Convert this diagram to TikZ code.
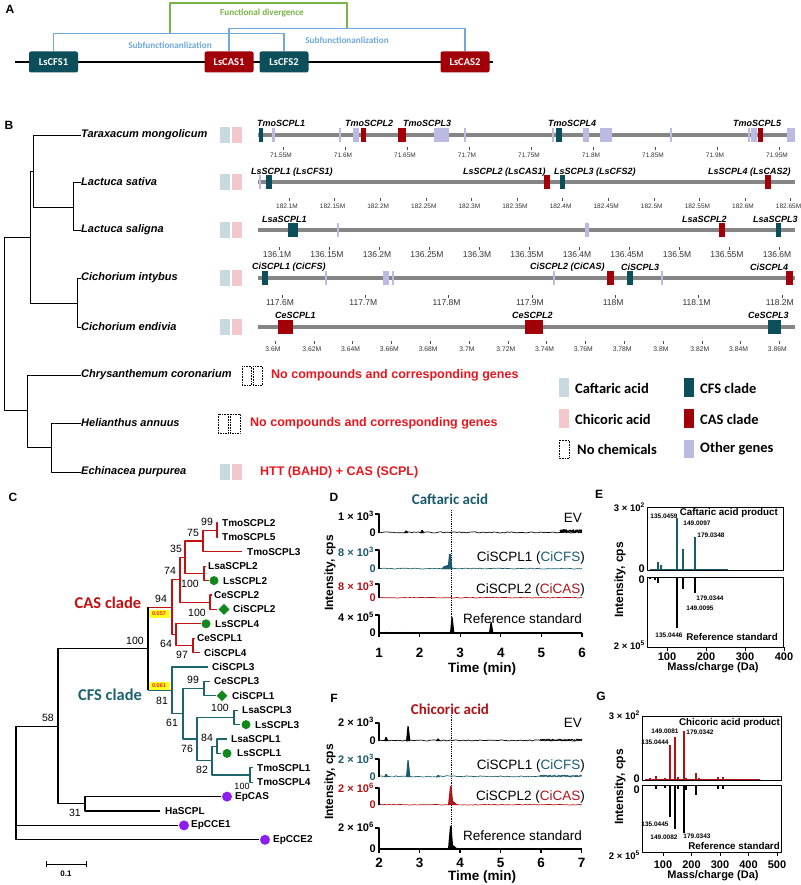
\documentclass[tikz,border=0pt]{standalone}
\usepackage{fontspec}
\setmainfont{Liberation Sans}
\newfontfamily\calib{Carlito}
\usetikzlibrary{positioning,shapes.geometric}
\definecolor{cfsteal}{RGB}{12,78,90}
\definecolor{casred}{RGB}{162,0,8}
\definecolor{subblue}{RGB}{111,168,220}
\definecolor{divgreen}{RGB}{120,180,70}
\definecolor{othergene}{RGB}{186,186,226}
\definecolor{caflight}{RGB}{200,218,224}
\definecolor{chicpink}{RGB}{242,200,205}
\definecolor{alertred}{RGB}{232,22,30}
\definecolor{treered}{RGB}{196,16,16}
\definecolor{treeteal}{RGB}{28,100,110}
\definecolor{tealtxt}{RGB}{26,92,110}
\definecolor{redtxt}{RGB}{175,20,25}
\definecolor{markgreen}{RGB}{18,135,28}
\definecolor{markpurple}{RGB}{140,30,240}
\definecolor{bsyellow}{RGB}{255,255,40}
\newcommand{\fs}[1]{\fontsize{#1}{#1}\selectfont}
% rectangular clade: [style]{x parent}{x child1}{y child1}{x child2}{y child2}
\newcommand{\clade}[6][black]{\draw[#1] (#3,#4) -- (#2,#4) -- (#2,#6) -- (#5,#6);}
\newcommand{\genes}[3]{\foreach \a/\b in {#3} \fill[#2] (\a,#1-7) rectangle (\b,#1+7);}
\newcommand{\trackticks}[5]{\foreach \t [count=\k from 0] in {#4} {\draw[black!70,line width=0.5pt] ({#2+2+#3*\k},#1-8) -- ++(0,3); \node[ticklab,font=\fs{#5}] at ({#2+#3*\k},#1) {\t M};}}
\newcommand{\noisy}[5]{\draw[#1,line width=0.7pt] plot[domain=#2:#3,samples=90] (\x,{#4-#5*rnd});}
\newcommand{\peak}[4]{\fill[#1] (#2-2,#3) -- (#2-0.5,#3-#4) -- (#2+0.6,#3-#4) -- (#2+2.4,#3) -- cycle;}
\tikzset{
  panel/.style={font=\bfseries\fs{12},inner sep=0pt},
  genebox/.style={rounded corners=2pt,minimum width=49pt,minimum height=21pt,inner sep=0pt,text=white,font=\calib\bfseries\fs{10.5}},
  bracket/.style={subblue,line width=1.3pt},
  brlab/.style={font=\calib\bfseries\fs{9.2},inner sep=0pt},
  species/.style={anchor=west,inner sep=0pt,font=\bfseries\itshape\fs{11}},
  sptree/.style={line width=0.9pt},
  track/.style={line width=3.5pt,draw=black!48},
  genelab/.style={anchor=west,inner sep=0pt,font=\bfseries\itshape\fs{9}},
  ticklab/.style={inner sep=0pt,text=black!80},
  nochem/.style={densely dotted,line width=0.6pt},
  alert/.style={anchor=west,inner sep=0pt,text=alertred,font=\bfseries\fs{12.5}},
  legtext/.style={anchor=west,inner sep=0pt,font=\calib\bfseries\fs{14.5}},
  cas/.style={treered,line width=1.2pt},
  cfs/.style={treeteal,line width=1.2pt},
  outer/.style={black,line width=1.2pt},
  leaflab/.style={anchor=west,inner sep=0pt,font=\bfseries\fs{10}},
  boot/.style={inner sep=0pt,font=\fs{10.5}},
  gdot/.style={circle,fill=markgreen,minimum size=9pt,inner sep=0pt},
  gdiam/.style={diamond,fill=markgreen,minimum size=11pt,inner sep=0pt},
  pdot/.style={circle,fill=markpurple,minimum size=10pt,inner sep=0pt},
  bsbox/.style={fill=bsyellow,text=red!75!orange,font=\bfseries\fs{5.5},minimum width=21pt,minimum height=8pt,inner sep=0pt},
  chromaxis/.style={line width=1.2pt},
  ylab/.style={anchor=east,inner sep=0pt,font=\bfseries\fs{11}},
  tracelab/.style={anchor=east,inner sep=0pt,font=\fs{13.5}},
  timelab/.style={inner sep=0pt,font=\bfseries\fs{13.5}},
  peaklab/.style={inner sep=0pt,font=\bfseries\fs{6.5}},
  speclab/.style={anchor=east,inner sep=0pt,font=\bfseries\fs{9.8}},
  masslab/.style={inner sep=0pt,font=\bfseries\fs{11}}
}
\begin{document}
\begin{tikzpicture}[x=1pt,y=-1pt,line join=round,>=stealth]
\useasboundingbox (0,0) rectangle (800,885);
\fill[white] (0,0) rectangle (800,885);
\pgfmathsetseed{7}

%% A: gene cluster
\node[panel] at (10,9) {A};
\draw[line width=2pt] (15,62) -- (493,62);
\node[genebox,fill=cfsteal] (cfs1) at (53.5,62) {LsCFS1};
\node[genebox,fill=casred] (cas1) at (229,62) {LsCAS1};
\node[genebox,fill=cfsteal] (cfs2) at (284,62) {LsCFS2};
\node[genebox,fill=casred] (cas2) at (465,62) {LsCAS2};
\draw[bracket] (cfs1.north) -- ++(0,-18) -| (cfs2.north);
\draw[bracket] (cas1.north) -- ++(0,-23) -| (cas2.north);
\coordinate (div1) at (170,33.5);
\coordinate (div2) at (347,28.5);
\draw[divgreen,line width=1.3pt] (div1) -- ++(0,-30.5) -| (div2);
\node[brlab,text=subblue] at (170,45) {Subfunctionanlization};
\node[brlab,text=subblue] at (347,40) {Subfunctionanlization};
\node[brlab,text=divgreen] at (262,13) {Functional divergence};

%% B: species tree and loci
\node[panel] at (9,125) {B};
\foreach \nm/\lab/\yy in {tmo/Taraxacum mongolicum/135, ls/Lactuca sativa/182, lsa/Lactuca saligna/230, ci/Cichorium intybus/278, ce/Cichorium endivia/327, chr/Chrysanthemum coronarium/375, ha/Helianthus annuus/423, ep/Echinacea purpurea/472}
  \node[species] (\nm) at (81,\yy) {\lab};
\draw[sptree] (tmo.west) -| (33,207) -- (73,207);
\draw[sptree] (ls.west) -| (73,230) -- (lsa.west);
\draw[sptree] (33,171) -- (30,171) -- (30,303) -- (77,303);
\draw[sptree] (ci.west) -| (77,327) -- (ce.west);
\draw[sptree] (30,237) -- (4,237) -- (4,410) -- (27,410);
\draw[sptree] (chr.west) -| (27,447) -- (51,447);
\draw[sptree] (ha.west) -| (51,472) -- (ep.west);
% chemicals
\foreach \yy in {135,182,230,278,327,472} {
  \fill[caflight] (220,\yy-8) rectangle (230,\yy+8);
  \fill[chicpink] (231.5,\yy-8) rectangle (241.5,\yy+8);
}
\draw[nochem] (242,366) rectangle (251.5,385) (253,366) rectangle (262.5,385);
\draw[nochem] (218,414) rectangle (228.5,433) (230,414) rectangle (240,433);
\node[alert] at (271,375) {No compounds and corresponding genes};
\node[alert] at (250,423) {No compounds and corresponding genes};
\node[alert] at (260,472) {HTT (BAHD) + CAS (SCPL)};
% tracks
\foreach \yy in {135,182,230,278,327} \draw[track] (258,\yy) -- (795,\yy);
\genes{135}{othergene}{272/275, 339/341, 353/359, 434/449, 464/465.5, 552/553.5, 583/589, 600/612, 670/672, 748/750, 751/757, 787/795}
\genes{135}{cfsteal}{259/263, 556/562}
\genes{135}{casred}{361/366, 398/406, 758/763}
\genes{182}{othergene}{259/260.5}
\genes{182}{cfsteal}{266/272, 560/565}
\genes{182}{casred}{544/550, 765/771}
\genes{230}{othergene}{337/338.5, 585/589}
\genes{230}{cfsteal}{288/298, 776/781}
\genes{230}{casred}{719/725}
\genes{278}{othergene}{325/326.5, 383/389, 392/393.5, 553/554.5, 661/662.5}
\genes{278}{cfsteal}{262/268, 627/633}
\genes{278}{casred}{607/614, 786/793}
\genes{327}{casred}{278/293, 525/543}
\genes{327}{cfsteal}{768/781}
\foreach \lab/\xx in {TmoSCPL1/257, TmoSCPL2/345, TmoSCPL3/403, TmoSCPL4/548, TmoSCPL5/733}
  \node[genelab] at (\xx,123) {\lab};
\foreach \lab/\xx in {LsSCPL1 (LsCFS1)/251, LsSCPL2 (LsCAS1)/463, LsSCPL3 (LsCFS2)/554, LsSCPL4 (LsCAS2)/708}
  \node[genelab] at (\xx,172) {\lab};
\foreach \lab/\xx in {LsaSCPL1/262, LsaSCPL2/682, LsaSCPL3/753}
  \node[genelab] at (\xx,219) {\lab};
\foreach \lab/\xx in {CiSCPL1 (CiCFS)/252, CiSCPL2 (CiCAS)/530, CiSCPL3/621, CiSCPL4/750}
  \node[genelab] at (\xx,267) {\lab};
\foreach \lab/\xx in {CeSCPL1/275, CeSCPL2/512, CeSCPL3/748}
  \node[genelab] at (\xx,315) {\lab};
\trackticks{155}{281}{62}{71.55,71.6,71.65,71.7,71.75,71.8,71.85,71.9,71.95}{6.5}
\trackticks{206}{287}{45.6}{182.1,182.15,182.2,182.25,182.3,182.35,182.4,182.45,182.5,182.55,182.6,182.65}{6.5}
\trackticks{255}{277}{50}{136.1,136.15,136.2,136.25,136.3,136.35,136.4,136.45,136.5,136.55,136.6}{8.5}
\trackticks{303}{280}{83.3}{117.6,117.7,117.8,117.9,118,118.1,118.2}{8.5}
\trackticks{349}{273}{38.8}{3.6,3.62,3.64,3.66,3.68,3.7,3.72,3.74,3.76,3.78,3.8,3.82,3.84,3.86}{6.8}
% legend
\fill[caflight] (559,378) rectangle (569,397);
\fill[chicpink] (559,409) rectangle (569,428);
\draw[nochem] (559,440) rectangle (569,458);
\fill[cfsteal] (684,378) rectangle (694,397);
\fill[casred] (684,409) rectangle (694,428);
\fill[othergene] (684,440) rectangle (694,458);
\node[legtext] at (575,388) {Caftaric acid};
\node[legtext] at (575,419) {Chicoric acid};
\node[legtext] at (577,449) {No chemicals};
\node[legtext] at (700,388) {CFS clade};
\node[legtext] at (700,419) {CAS clade};
\node[legtext] at (700,449) {Other genes};

%% C: gene tree
\node[panel] at (13,497) {C};
\clade[cas]{217}{218}{523}{218}{537.4}
\clade[cas]{203}{217}{530.2}{242}{551.8}
\clade[cas]{204}{206}{566.2}{209}{580.6}
\clade[cas]{185}{203}{541}{204}{573.4}
\clade[cas]{210}{212}{595}{217}{609.4}
\clade[cas]{180}{185}{557.2}{210}{602.2}
\clade[cas]{193}{195}{638.2}{200}{652.6}
\clade[cas]{176}{201}{623.8}{193}{645.4}
\clade[cas]{172}{180}{579.7}{176}{634.6}
\draw[cas] (148,607.2) -- (172,607.2);
\clade[cfs]{204}{210}{681.4}{216}{695.8}
\clade[cfs]{234}{238}{710.2}{240}{724.6}
\clade[cfs]{217}{227}{739}{221}{753.4}
\clade[cfs]{250}{253}{767.8}{253}{782.2}
\clade[cfs]{212}{217}{746.2}{250}{775}
\clade[cfs]{197}{234}{717.4}{212}{760.6}
\clade[cfs]{183}{204}{688.6}{197}{739}
\clade[cfs]{172}{208}{667}{183}{713.8}
\draw[cfs] (148,690.4) -- (172,690.4);
\draw[outer] (148,607.2) -- (148,690.4);
\clade[outer]{85}{221}{796.6}{160}{811}
\clade[outer]{58}{148}{648.8}{85}{803.8}
\draw[outer] (58,726.3) -- (16,726.3) -- (16,839.8) -- (259,839.8);
\draw[outer] (16,825.4) -- (178,825.4);
\foreach \lab/\xx/\yy in {TmoSCPL2/222/523, TmoSCPL5/222/537.4, TmoSCPL3/247/551.8, LsaSCPL2/208/566.2, LsSCPL2/223/580.6, CeSCPL2/214/595, CiSCPL2/233/609.4, LsSCPL4/215/623.8, CeSCPL1/197/638.2, CiSCPL4/204/652.6, CiSCPL3/212/667, CeSCPL3/214/681.4, CiSCPL1/232/695.8, LsaSCPL3/242/710.2, LsSCPL3/255/724.6, LsaSCPL1/231/739, LsSCPL1/237/753.4, TmoSCPL1/257/767.8, TmoSCPL4/257/782.2, EpCAS/235/796.6, HaSCPL/165/811, EpCCE1/191/825.4, EpCCE2/273/839.8}
  \node[leaflab] at (\xx,\yy) {\lab};
\foreach \xx/\yy in {214/580.6, 206/623.8, 246/724.6, 227/753.4} \node[gdot] at (\xx,\yy) {};
\foreach \xx/\yy in {224/609.4, 222/695.8} \node[gdiam] at (\xx,\yy) {};
\foreach \xx/\yy in {227/796.6, 184/825.4, 265/839.8} \node[pdot] at (\xx,\yy) {};
\foreach \v/\xx/\yy in {99/207/522, 75/193/533, 35/176/549, 74/170/571, 100/190/584, 94/161/599, 100/197/613, 64/166/644, 97/182/655, 100/135/641, 99/193/680, 81/162/701, 100/220/708, 61/172/723, 84/207/738, 76/187/749, 82/202/770, 58/48/718, 31/75/813}
  \node[boot] at (\xx,\yy) {\v};
\node[boot,font=\fs{9}] at (242,786.5) {100};
\node[bsbox] at (159,614) {0.057};
\node[bsbox] at (159,686) {0.061};
\node[text=treered,font=\calib\bfseries\fs{16.5},inner sep=0pt] at (108,603) {CAS clade};
\node[text=treeteal,font=\calib\bfseries\fs{16.5},inner sep=0pt] at (110,695) {CFS clade};
\draw[line width=0.9pt] (46,861) -- (46,867) (46,864) -- (86,864) (86,861) -- (86,867);
\node[inner sep=0pt,font=\bfseries\fs{8}] at (66,874) {0.1};

%% D: caftaric acid chromatograms
\node[panel] at (334,497) {D};
\node[font=\calib\bfseries\fs{15},text=tealtxt,inner sep=0pt] at (450,499) {Caftaric acid};
\node[rotate=90,inner sep=0pt,font=\bfseries\fs{12}] at (330,573) {Intensity, cps};
\draw[densely dotted,line width=0.8pt] (451,510) -- (451,633);
\noisy{black}{380}{582}{533}{1.2}
\noisy{black}{560}{582}{533}{3.5}
\peak{black}{406}{533}{2.5}
\peak{black}{422}{533}{3}
\noisy{tealtxt}{380}{582}{569}{0.9}
\fill[tealtxt] (441,569) -- (444,566) -- (448,565) -- (449,554) -- (451,554) -- (452,566) -- (453,569) -- cycle;
\noisy{redtxt}{380}{582}{598}{0.7}
\noisy{black}{380}{582}{633}{0.7}
\peak{black}{452}{633}{16}
\peak{black}{491}{633}{11}
\foreach \tp/\bs in {514/533, 550/569, 584/598, 615/633} \draw[chromaxis] (375,\tp) -- (379,\tp) -- (379,\bs);
\node[ylab] at (374,516) {1 × 10\textsuperscript{3}};
\node[ylab] at (376,533) {0};
\node[ylab,text=tealtxt] at (374,552) {8 × 10\textsuperscript{3}};
\node[ylab,text=tealtxt] at (376,569) {0};
\node[ylab,text=redtxt] at (374,586) {8 × 10\textsuperscript{3}};
\node[ylab,text=redtxt] at (376,598) {0};
\node[ylab] at (374,617) {4 × 10\textsuperscript{5}};
\node[ylab] at (376,633) {0};
\node[tracelab] at (582,518) {EV};
\node[tracelab] at (585,558) {CiSCPL1 (\textcolor{tealtxt}{CiCFS})};
\node[tracelab] at (585,590) {CiSCPL2 (\textcolor{redtxt}{CiCAS})};
\node[tracelab] at (582,619) {Reference standard};
\draw[chromaxis] (379,633) -- (582,633);
\foreach \t in {1,...,6} {
  \draw[chromaxis] ({379+40.6*(\t-1)},633) -- ++(0,4);
  \node[timelab] at ({379+40.6*(\t-1)},653) {\t};
}
\node[timelab] at (482,669) {Time (min)};

%% F: chicoric acid chromatograms
\node[panel] at (334,698) {F};
\node[font=\calib\bfseries\fs{15},text=redtxt,inner sep=0pt] at (450,709) {Chicoric acid};
\node[rotate=90,inner sep=0pt,font=\bfseries\fs{12}] at (330,782) {Intensity, cps};
\draw[densely dotted,line width=0.8pt] (451,715) -- (451,849);
\noisy{black}{380}{582}{741}{1.2}
\noisy{black}{540}{582}{741}{2}
\peak{black}{386}{741}{4}
\peak{black}{408}{741}{15}
\peak{black}{438}{741}{2.5}
\noisy{tealtxt}{380}{582}{777}{1.2}
\noisy{tealtxt}{540}{582}{777}{2}
\peak{tealtxt}{386}{777}{3}
\peak{tealtxt}{408}{777}{17}
\peak{tealtxt}{438}{777}{2}
\noisy{redtxt}{380}{582}{805}{0.6}
\fill[redtxt] (448,805) -- (450,786) -- (451.5,786) -- (453,801) -- (458,805) -- cycle;
\noisy{black}{380}{582}{849}{0.6}
\fill[black] (448,849) -- (450,826) -- (451.5,826) -- (453,845) -- (458,849) -- cycle;
\foreach \tp/\bs in {723/741, 759/777, 788/805, 828/849} \draw[chromaxis] (375,\tp) -- (379,\tp) -- (379,\bs);
\node[ylab] at (374,722) {2 × 10\textsuperscript{3}};
\node[ylab] at (376,741) {0};
\node[ylab,text=tealtxt] at (374,759) {2 × 10\textsuperscript{3}};
\node[ylab,text=tealtxt] at (376,777) {0};
\node[ylab,text=redtxt] at (374,788) {2 × 10\textsuperscript{6}};
\node[ylab,text=redtxt] at (376,805) {0};
\node[ylab] at (374,827) {2 × 10\textsuperscript{6}};
\node[ylab] at (376,849) {0};
\node[tracelab] at (582,723) {EV};
\node[tracelab] at (585,766) {CiSCPL1 (\textcolor{tealtxt}{CiCFS})};
\node[tracelab] at (585,797) {CiSCPL2 (\textcolor{redtxt}{CiCAS})};
\node[tracelab] at (582,836) {Reference standard};
\draw[chromaxis] (379,849) -- (582,849);
\foreach \t in {2,...,7} {
  \draw[chromaxis] ({379+40.5*(\t-2)},849) -- ++(0,4);
  \node[timelab] at ({379+40.5*(\t-2)},863) {\t};
}
\node[timelab] at (482,877) {Time (min)};

%% E: caftaric acid MS/MS
\node[panel] at (599,494) {E};
\node[rotate=90,inner sep=0pt,font=\bfseries\fs{12}] at (620,580) {Intensity, cps};
\draw[tealtxt,line width=0.6pt] (650,569.5) -- (728,569.5);
\foreach \xx/\tp in {658/562, 661/565, 677/518, 683/549, 695/537} \draw[tealtxt,line width=1.4pt] (\xx,570) -- (\xx,\tp);
\foreach \xx/\bt in {650/579, 655/580, 658/583, 677/628, 683/589, 695/593} \draw[line width=1.4pt] (\xx,577) -- (\xx,\bt);
\draw[line width=1pt] (647,507) rectangle (783,570);
\draw[line width=1pt] (647,577) rectangle (783,647);
\node[speclab] at (778,513) {Caftaric acid product};
\node[speclab] at (778,637) {Reference standard};
\foreach \v/\xx/\yy in {135.0459/664/516, 149.0097/697/523, 179.0348/711/535, 179.0344/710/598, 149.0095/700/608, 135.0446/669/635}
  \node[peaklab] at (\xx,\yy) {\v};
\node[ylab,font=\bfseries\fs{9.5}] at (645,507) {3 × 10\textsuperscript{2}};
\node[ylab] at (645,569) {0};
\node[ylab] at (645,580) {0};
\node[ylab,font=\bfseries\fs{9.5}] at (645,645) {2 × 10\textsuperscript{5}};
\foreach \m in {100,200,300,400} {
  \draw[line width=1pt] ({667+0.39*(\m-100)},647) -- ++(0,4);
  \node[masslab] at ({667+0.39*(\m-100)},657) {\m};
}
\node[masslab] at (713,668) {Mass/charge (Da)};

%% G: chicoric acid MS/MS
\node[panel] at (601,696) {G};
\node[rotate=90,inner sep=0pt,font=\bfseries\fs{12}] at (620,787) {Intensity, cps};
\draw[redtxt,line width=0.6pt] (645,779.5) -- (760,779.5);
\foreach \xx/\tp in {647/779, 650/778, 656/776, 665/778, 670/745, 675/737, 678/777, 684/731, 686/778, 696/773, 699/778, 718/777, 723/777} \draw[redtxt,line width=1.4pt] (\xx,780) -- (\xx,\tp);
\foreach \xx/\bt in {656/789, 665/788, 670/817, 675/829, 678/789, 684/833, 686/790, 696/795, 718/789, 723/789} \draw[line width=1.4pt] (\xx,785) -- (\xx,\bt);
\draw[line width=1pt] (642,716) rectangle (781,780);
\draw[line width=1pt] (642,785) rectangle (781,852);
\node[speclab] at (780,723) {Chicoric acid product};
\node[speclab] at (780,846) {Reference standard};
\foreach \v/\xx/\yy in {149.0081/665/731, 179.0342/700/732, 135.0444/655/742, 135.0445/655/824, 149.0082/664/837, 179.0343/697/836}
  \node[peaklab] at (\xx,\yy) {\v};
\node[ylab,font=\bfseries\fs{9.5}] at (640,715) {3 × 10\textsuperscript{2}};
\node[ylab] at (640,779) {0};
\node[ylab] at (640,790) {0};
\node[ylab,font=\bfseries\fs{9.5}] at (640,855) {2 × 10\textsuperscript{5}};
\foreach \m in {100,200,300,400,500} {
  \draw[line width=1pt] ({663+0.285*(\m-100)},852) -- ++(0,4);
  \node[masslab] at ({663+0.285*(\m-100)},865) {\m};
}
\node[masslab] at (713,876) {Mass/charge (Da)};
\end{tikzpicture}
\end{document}
